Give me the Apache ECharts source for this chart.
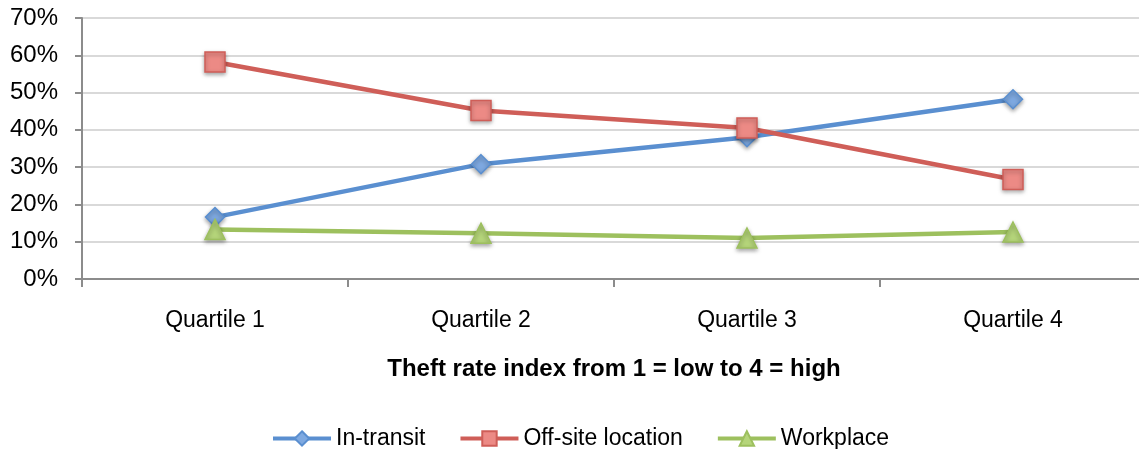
<!DOCTYPE html>
<html><head><meta charset="utf-8">
<script src="https://cdn.jsdelivr.net/npm/echarts@6/dist/echarts.min.js"></script>
<style>html,body{margin:0;padding:0;background:#fff}#c{width:1139px;height:449px}</style>
</head><body><div id="c"></div>
<script>
const categories = ['Quartile 1', 'Quartile 2', 'Quartile 3', 'Quartile 4'];
const inTransit = [16.6, 30.8, 38.0, 48.2];
const offSite = [58.2, 45.2, 40.5, 26.7];
const workplace = [13.3, 12.3, 11.0, 12.6];
const yTicks = [0, 10, 20, 30, 40, 50, 60, 70];

const chart = echarts.init(document.getElementById('c'));
const font = 'Liberation Sans, Arial, sans-serif';
function mk(name, data, color, fill, symbol, size) {
  return {
    name, type: 'line', data, symbol, symbolSize: size,
    lineStyle: { color, width: 4.5 },
    itemStyle: { color: fill, borderColor: color, borderWidth: 1.5, shadowBlur: 4, shadowColor: 'rgba(0,0,0,0.35)', shadowOffsetY: 2 },
    emphasis: { disabled: true }, z: 3
  };
}
chart.setOption({
  animation: false,
  grid: { left: 82, top: 18, width: 1064, height: 261, containLabel: false, outerBoundsMode: 'none' },
  legend: {
    top: 422, left: 266, itemWidth: 58, itemHeight: 18, itemGap: 33,
    lineStyle: { width: 4 },
    textStyle: { fontFamily: font, fontSize: 23, color: '#000' },
    data: ['In-transit', 'Off-site location', 'Workplace']
  },
  xAxis: {
    type: 'category', data: categories, boundaryGap: true,
    name: 'Theft rate index from 1 = low to 4 = high', nameLocation: 'middle', nameGap: 78,
    nameTextStyle: { fontFamily: font, fontSize: 24, fontWeight: 'bold', color: '#000' },
    axisLine: { lineStyle: { color: '#8c8c8c', width: 2 } },
    axisTick: { show: true, length: 8, lineStyle: { color: '#8c8c8c', width: 2 } },
    axisLabel: { fontFamily: font, fontSize: 23, color: '#000', margin: 30 }
  },
  yAxis: {
    type: 'value', min: 0, max: 70, interval: 10,
    axisLine: { show: true, lineStyle: { color: '#8c8c8c', width: 2 } },
    axisTick: { show: true, length: 7, lineStyle: { color: '#8c8c8c', width: 2 } },
    splitLine: { lineStyle: { color: '#d9d9d9', width: 2 } },
    axisLabel: { fontFamily: font, fontSize: 24, color: '#000', margin: 24, formatter: v => yTicks.includes(v) ? v + '%' : '' }
  },
  series: [
    mk('In-transit', inTransit, '#5a8fd0', '#7ea9e1', 'diamond', 19),
    mk('Off-site location', offSite, '#cf5e58', '#ec8a85', 'rect', 20),
    mk('Workplace', workplace, '#9dc05e', '#b5d57a', 'triangle', 20)
  ]
});
</script></body></html>
